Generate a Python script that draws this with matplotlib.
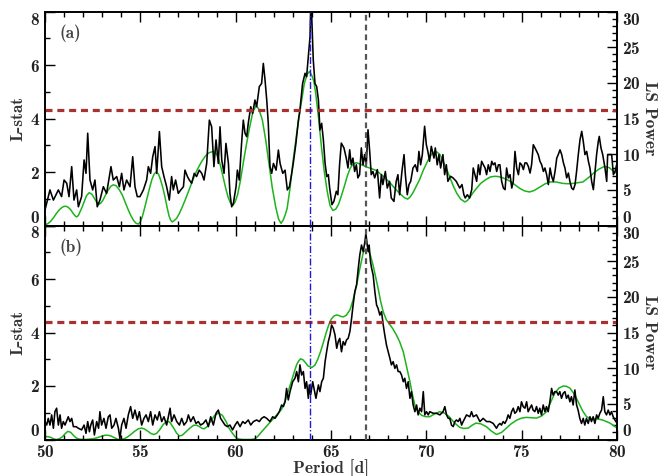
import numpy as np
import matplotlib
matplotlib.use("Agg")
import matplotlib.pyplot as plt

plt.rcParams['font.family'] = ['cmb10', 'DejaVu Serif']
plt.rcParams['axes.formatter.use_mathtext'] = True
plt.rcParams['axes.unicode_minus'] = False

# panel (a): L-stat (black) and LS power (green)
lstat_a = [
    (50.00, 0.58), (50.26, 1.33), (50.44, 0.95), (50.70, 1.33), (50.87, 1.08), (51.00, 1.70),
    (51.14, 1.58), (51.26, 1.08), (51.40, 2.20), (51.52, 0.95), (51.66, 1.33), (51.75, 0.70),
    (51.92, 1.08), (52.05, 2.45), (52.15, 1.95), (52.24, 3.45), (52.36, 1.70), (52.50, 1.33),
    (52.62, 1.70), (52.74, 0.70), (52.88, 0.95), (53.06, 1.45), (53.23, 1.20), (53.46, 2.20),
    (53.58, 1.70), (53.76, 1.83), (53.90, 1.45), (54.02, 1.95), (54.14, 1.33), (54.28, 1.70),
    (54.46, 1.45), (54.60, 2.57), (54.72, 1.45), (54.84, 1.08), (54.98, 1.08), (55.16, 1.33),
    (55.33, 1.70), (55.42, 2.20), (55.54, 1.95), (55.65, 2.57), (55.77, 2.95), (55.86, 1.95),
    (56.00, 3.51), (56.12, 2.20), (56.24, 1.83), (56.38, 1.45), (56.52, 0.95), (56.64, 1.83),
    (56.73, 1.33), (56.85, 1.70), (56.99, 1.20), (57.12, 1.33), (57.26, 1.45), (57.34, 2.07),
    (57.47, 1.83), (57.57, 1.70), (57.69, 1.58), (57.83, 1.95), (57.95, 1.83), (58.09, 2.07),
    (58.22, 1.95), (58.34, 1.70), (58.48, 2.32), (58.62, 3.94), (58.74, 3.69), (58.86, 2.20),
    (58.97, 3.20), (59.09, 2.32), (59.18, 3.69), (59.27, 2.45), (59.39, 1.95), (59.49, 3.07),
    (59.62, 2.32), (59.70, 1.20), (59.79, 0.70), (59.88, 0.83), (60.02, 1.45), (60.09, 2.07),
    (60.19, 1.70), (60.31, 3.07), (60.40, 3.94), (60.49, 3.45), (60.58, 3.32), (60.66, 3.82),
    (60.79, 4.44), (60.89, 4.19), (61.01, 4.69), (61.10, 4.44), (61.24, 5.19), (61.36, 5.31),
    (61.45, 6.06), (61.54, 5.44), (61.63, 4.69), (61.71, 3.82), (61.80, 2.20), (61.89, 1.95),
    (61.98, 2.32), (62.12, 2.07), (62.24, 2.82), (62.33, 2.32), (62.47, 1.95), (62.59, 2.07),
    (62.71, 1.33), (62.82, 1.45), (62.94, 1.95), (63.02, 2.32), (63.16, 3.07), (63.29, 3.94),
    (63.37, 4.32), (63.51, 5.31), (63.64, 5.69), (63.72, 5.56), (63.81, 6.31), (63.90, 7.06),
    (63.95, 8.60), (64.02, 7.18), (64.07, 6.19), (64.16, 5.31), (64.25, 5.19), (64.34, 4.69),
    (64.42, 3.57), (64.51, 3.82), (64.60, 3.20), (64.69, 2.32), (64.78, 1.83), (64.86, 1.90),
    (64.93, 1.40), (65.05, 0.78), (65.15, 0.90), (65.28, 1.28), (65.36, 1.15), (65.45, 2.27),
    (65.54, 3.08), (65.68, 2.90), (65.80, 2.52), (65.89, 2.15), (65.98, 2.83), (66.06, 2.27),
    (66.15, 2.52), (66.24, 2.02), (66.33, 2.27), (66.41, 1.78), (66.50, 1.90), (66.59, 2.90),
    (66.68, 2.27), (66.76, 2.65), (66.85, 2.27), (66.94, 3.58), (67.03, 2.77), (67.11, 1.90),
    (67.20, 2.02), (67.29, 1.78), (67.43, 2.09), (67.55, 1.03), (67.64, 1.90), (67.72, 1.53),
    (67.85, 2.02), (67.95, 1.40), (68.07, 1.65), (68.16, 1.03), (68.30, 0.90), (68.42, 1.65),
    (68.51, 1.90), (68.60, 1.15), (68.72, 2.02), (68.83, 2.65), (68.90, 1.90), (69.00, 1.15),
    (69.09, 1.53), (69.18, 1.65), (69.30, 2.15), (69.42, 2.27), (69.53, 2.02), (69.61, 2.77),
    (69.70, 2.27), (69.79, 2.65), (69.91, 3.71), (70.00, 3.02), (70.08, 2.77), (70.17, 2.40),
    (70.26, 2.96), (70.40, 2.52), (70.47, 2.90), (70.57, 2.27), (70.66, 2.65), (70.75, 2.15),
    (70.87, 2.65), (70.96, 1.90), (71.05, 2.27), (71.13, 1.65), (71.27, 1.84), (71.40, 1.78),
    (71.57, 1.65), (71.75, 1.40), (71.87, 1.53), (71.97, 1.15), (72.04, 1.03), (72.15, 1.15),
    (72.27, 1.03), (72.38, 1.34), (72.46, 2.15), (72.55, 1.90), (72.64, 1.65), (72.73, 2.27),
    (72.81, 1.90), (72.90, 2.40), (72.99, 2.27), (73.08, 2.15), (73.16, 1.90), (73.25, 2.27),
    (73.34, 2.02), (73.43, 2.40), (73.51, 2.27), (73.60, 2.34), (73.69, 2.02), (73.78, 2.27),
    (73.86, 2.27), (73.95, 1.65), (74.04, 1.40), (74.13, 1.34), (74.21, 2.15), (74.30, 1.78),
    (74.39, 1.90), (74.48, 1.40), (74.56, 1.65), (74.65, 2.77), (74.74, 2.15), (74.83, 1.90),
    (74.91, 2.34), (75.00, 2.27), (75.09, 2.09), (75.17, 2.34), (75.26, 2.34), (75.35, 2.21),
    (75.44, 1.96), (75.52, 2.27), (75.61, 3.02), (75.70, 2.90), (75.79, 2.77), (75.87, 2.65),
    (75.96, 2.40), (76.05, 2.27), (76.14, 2.02), (76.22, 2.15), (76.31, 1.90), (76.40, 1.53),
    (76.49, 2.15), (76.57, 1.84), (76.66, 1.65), (76.75, 2.02), (76.84, 2.52), (76.92, 2.65),
    (77.01, 2.83), (77.10, 2.65), (77.19, 2.34), (77.27, 2.15), (77.36, 1.78), (77.45, 1.96),
    (77.53, 1.65), (77.62, 1.40), (77.71, 1.34), (77.80, 1.53), (77.88, 2.02), (77.97, 2.65),
    (78.06, 3.21), (78.15, 3.52), (78.23, 3.15), (78.32, 2.65), (78.41, 2.77), (78.50, 2.40),
    (78.58, 2.15), (78.67, 1.65), (78.76, 1.34), (78.85, 2.02), (78.93, 2.65), (79.02, 3.15),
    (79.07, 3.33), (79.16, 2.90), (79.25, 2.65), (79.37, 2.15), (79.46, 1.65), (79.51, 2.65),
    (79.60, 2.65), (79.72, 2.65), (79.81, 1.90), (79.90, 2.02), (79.98, 2.27),
]

ls_a = [
    (50.0, 0.1), (50.15, 0.25), (50.3, 0.6), (50.45, 1.1), (50.6, 1.7), (50.75, 2.2), (50.9, 2.55),
    (51.0, 2.68), (51.1, 2.7), (51.22, 2.55), (51.35, 2.2), (51.5, 1.6), (51.6, 1.3), (51.66, 1.2),
    (51.75, 1.4), (51.85, 2.0), (51.95, 2.6), (52.05, 3.3), (52.18, 4.2), (52.32, 4.6),
    (52.45, 4.4), (52.55, 4.0), (52.7, 3.3), (52.85, 3.0), (52.95, 3.2), (53.05, 3.6),
    (53.18, 4.3), (53.3, 4.9), (53.45, 5.5), (53.58, 5.7), (53.72, 5.6), (53.9, 5.0),
    (54.05, 4.3), (54.2, 3.3), (54.35, 2.3), (54.5, 1.4), (54.65, 0.7), (54.78, 0.3),
    (54.9, 0.2), (55.0, 0.5), (55.1, 1.2), (55.22, 2.4), (55.35, 3.8), (55.48, 5.2), (55.6, 6.4),
    (55.72, 7.2), (55.83, 7.5), (55.95, 7.2), (56.05, 6.5), (56.18, 5.3), (56.3, 3.9),
    (56.4, 2.6), (56.5, 1.4), (56.58, 0.8), (56.67, 0.5), (56.78, 0.7), (56.9, 1.0),
    (57.05, 1.7), (57.2, 2.6), (57.4, 3.9), (57.6, 5.3), (57.8, 6.7), (58.0, 7.9), (58.2, 8.9),
    (58.4, 9.7), (58.6, 10.2), (58.85, 10.4), (59.0, 10.0), (59.1, 9.4), (59.22, 8.2),
    (59.35, 6.7), (59.48, 5.2), (59.6, 4.0), (59.72, 3.2), (59.85, 2.8), (59.97, 3.3),
    (60.1, 4.3), (60.25, 6.3), (60.4, 8.8), (60.58, 11.6), (60.75, 14.0), (60.9, 15.9),
    (61.07, 16.8), (61.22, 16.3), (61.4, 14.8), (61.58, 11.9), (61.75, 8.6), (61.92, 5.3),
    (62.1, 2.6), (62.25, 0.9), (62.38, 0.3), (62.5, 0.8), (62.6, 1.5), (62.7, 2.4), (62.85, 5.2),
    (63.0, 8.8), (63.2, 12.9), (63.4, 16.5), (63.6, 19.9), (63.75, 21.2), (63.87, 21.6),
    (64.0, 21.0), (64.1, 20.2), (64.2, 18.5), (64.35, 15.0), (64.5, 11.0), (64.65, 7.5),
    (64.8, 4.8), (64.95, 2.8), (65.1, 2.1), (65.25, 2.3), (65.4, 3.0), (65.55, 4.2),
    (65.7, 5.5), (65.85, 6.9), (66.0, 8.0), (66.15, 8.6), (66.33, 8.8), (66.55, 8.6),
    (66.86, 8.2), (67.1, 8.0), (67.39, 7.7), (67.7, 7.0), (68.06, 6.1), (68.35, 5.2),
    (68.6, 4.5), (68.85, 3.9), (69.02, 3.7), (69.15, 4.0), (69.3, 4.6), (69.47, 5.5),
    (69.64, 6.4), (69.85, 7.8), (70.1, 9.2), (70.3, 10.1), (70.5, 10.4), (70.7, 10.0),
    (70.85, 9.2), (71.05, 8.0), (71.23, 6.8), (71.42, 5.5), (71.6, 4.5), (71.8, 3.7),
    (72.02, 3.3), (72.15, 3.5), (72.3, 4.0), (72.45, 4.6), (72.63, 5.2), (72.85, 5.9),
    (73.1, 6.4), (73.35, 6.8), (73.6, 6.9), (73.8, 6.85), (74.0, 6.7), (74.25, 6.4),
    (74.45, 6.1), (74.7, 5.6), (74.9, 5.2), (75.15, 4.85), (75.41, 4.7), (75.65, 4.9),
    (75.9, 5.3), (76.2, 5.8), (76.46, 6.1), (76.8, 6.1), (77.16, 5.9), (77.45, 5.85),
    (77.7, 5.9), (77.95, 6.0), (78.21, 6.1), (78.5, 6.7), (78.8, 7.4), (79.05, 7.9),
    (79.35, 8.3), (79.6, 8.1), (79.87, 7.5), (80.0, 7.3),
]

# panel (b)
lstat_b = [
    (50.00, 0.67), (50.09, 0.54), (50.17, 0.79), (50.26, 0.54), (50.35, 0.92), (50.44, 0.42),
    (50.52, 1.04), (50.61, 1.17), (50.70, 0.54), (50.79, 0.92), (50.87, 0.42), (50.96, 0.67),
    (51.05, 0.54), (51.22, 0.85), (51.31, 0.67), (51.40, 0.79), (51.49, 0.48), (51.63, 0.48),
    (51.75, 0.42), (51.92, 0.36), (52.05, 0.54), (52.15, 0.23), (52.24, 0.67), (52.33, 0.29),
    (52.40, 0.54), (52.50, 0.73), (52.59, 0.17), (52.71, 0.67), (52.81, 0.42), (52.88, 1.04),
    (52.97, 0.54), (53.09, 0.79), (53.20, 0.42), (53.32, 0.85), (53.41, 0.92), (53.50, 0.42),
    (53.62, 0.54), (53.72, 0.79), (53.85, 0.42), (53.93, 0.04), (54.02, 0.54), (54.14, 0.79),
    (54.25, 0.42), (54.37, 0.92), (54.49, 1.23), (54.60, 0.79), (54.72, 1.10), (54.84, 0.73),
    (54.95, 1.04), (55.07, 0.54), (55.19, 0.79), (55.30, 0.92), (55.42, 0.67), (55.54, 1.04),
    (55.65, 0.54), (55.77, 0.92), (55.89, 0.73), (56.00, 1.04), (56.12, 0.67), (56.24, 0.85),
    (56.38, 0.54), (56.56, 1.17), (56.64, 0.67), (56.77, 0.92), (56.91, 0.67), (57.05, 0.54),
    (57.17, 0.79), (57.29, 0.54), (57.43, 0.67), (57.52, 0.92), (57.64, 0.67), (57.78, 0.85),
    (57.92, 0.60), (58.04, 0.67), (58.16, 0.54), (58.30, 0.60), (58.44, 0.73), (58.57, 0.48),
    (58.69, 0.85), (58.83, 0.54), (58.97, 0.98), (59.09, 1.10), (59.21, 0.79), (59.32, 0.67),
    (59.44, 0.54), (59.56, 0.48), (59.70, 0.54), (59.84, 0.36), (59.97, 0.54), (60.09, 0.67),
    (60.23, 0.48), (60.37, 0.67), (60.49, 0.60), (60.66, 0.73), (60.79, 0.54), (60.93, 0.67),
    (61.10, 0.73), (61.24, 0.67), (61.36, 0.79), (61.49, 0.85), (61.63, 0.79), (61.80, 0.67),
    (61.94, 0.85), (62.06, 0.79), (62.19, 0.92), (62.29, 1.04), (62.41, 1.29), (62.50, 1.23),
    (62.59, 1.41), (62.67, 1.91), (62.76, 1.48), (62.85, 1.79), (62.99, 2.16), (63.11, 2.29),
    (63.20, 2.54), (63.29, 2.16), (63.37, 2.79), (63.46, 2.41), (63.55, 2.54), (63.64, 1.91),
    (63.72, 2.16), (63.81, 1.54), (63.86, 2.04), (63.93, 1.66), (64.04, 2.16), (64.11, 1.91),
    (64.21, 1.54), (64.34, 2.04), (64.42, 1.79), (64.51, 2.16), (64.60, 2.29), (64.69, 2.91),
    (64.77, 3.28), (64.86, 3.66), (64.95, 3.91), (65.03, 4.28), (65.12, 4.16), (65.21, 3.91),
    (65.30, 3.41), (65.38, 3.66), (65.46, 3.78), (65.55, 3.28), (65.64, 3.66), (65.73, 3.53),
    (65.81, 3.72), (65.90, 3.78), (65.99, 4.03), (66.08, 4.53), (66.16, 5.03), (66.25, 5.53),
    (66.34, 5.78), (66.43, 6.40), (66.51, 6.90), (66.60, 7.27), (66.69, 7.02), (66.78, 7.40),
    (66.83, 7.71), (66.90, 7.27), (66.95, 7.02), (67.00, 7.27), (67.07, 6.65), (67.13, 6.40),
    (67.21, 6.15), (67.30, 5.53), (67.39, 5.03), (67.47, 4.90), (67.56, 4.65), (67.65, 4.78),
    (67.74, 4.28), (67.82, 3.91), (67.91, 3.53), (68.00, 3.28), (68.09, 3.03), (68.17, 2.79),
    (68.26, 2.91), (68.35, 2.66), (68.44, 2.79), (68.52, 2.54), (68.61, 2.54), (68.70, 2.41),
    (68.79, 2.16), (68.87, 2.29), (68.96, 1.91), (69.05, 2.16), (69.14, 1.54), (69.22, 1.79),
    (69.31, 1.29), (69.40, 1.04), (69.49, 1.29), (69.57, 0.92), (69.66, 1.17), (69.75, 1.04),
    (69.84, 1.79), (69.92, 0.92), (70.01, 1.04), (70.10, 0.92), (70.18, 1.04), (70.36, 0.98),
    (70.53, 0.98), (70.71, 0.92), (70.88, 1.04), (70.97, 1.23), (71.06, 0.92), (71.15, 0.79),
    (71.23, 0.79), (71.32, 0.54), (71.41, 0.48), (71.50, 0.67), (71.58, 0.73), (71.67, 0.67),
    (71.76, 0.79), (71.85, 0.54), (71.93, 0.67), (72.11, 0.92), (72.28, 0.85), (72.37, 1.04),
    (72.46, 0.85), (72.63, 0.92), (72.81, 0.67), (72.98, 0.79), (73.16, 0.67), (73.33, 0.67),
    (73.51, 0.60), (73.68, 0.42), (73.77, 0.54), (73.86, 0.60), (73.94, 0.54), (74.03, 0.67),
    (74.12, 0.60), (74.21, 0.73), (74.29, 0.92), (74.38, 0.79), (74.47, 1.04), (74.56, 1.17),
    (74.64, 0.98), (74.73, 1.04), (74.82, 1.23), (74.91, 1.04), (74.99, 1.41), (75.08, 1.23),
    (75.17, 1.17), (75.26, 1.41), (75.34, 1.04), (75.43, 1.17), (75.52, 1.29), (75.60, 1.10),
    (75.69, 1.04), (75.78, 1.23), (75.87, 0.98), (75.95, 1.17), (76.04, 0.92), (76.13, 1.29),
    (76.22, 1.04), (76.30, 1.23), (76.39, 1.04), (76.48, 1.41), (76.57, 1.91), (76.65, 1.66),
    (76.74, 1.79), (76.83, 1.79), (76.92, 1.66), (77.00, 1.79), (77.09, 1.54), (77.18, 1.73),
    (77.27, 1.79), (77.35, 1.54), (77.44, 1.66), (77.53, 1.41), (77.61, 1.60), (77.70, 1.29),
    (77.79, 1.85), (77.88, 1.29), (77.96, 1.10), (78.05, 0.79), (78.14, 0.60), (78.23, 0.79),
    (78.31, 0.54), (78.40, 0.79), (78.49, 0.60), (78.58, 0.85), (78.66, 0.67), (78.75, 0.85),
    (78.84, 0.60), (78.93, 0.92), (79.01, 0.79), (79.10, 0.98), (79.19, 1.10), (79.28, 1.60),
    (79.36, 1.04), (79.45, 0.92), (79.54, 1.10), (79.63, 0.92), (79.71, 1.04), (79.80, 0.85),
    (79.89, 0.73), (79.94, 0.67),
]

ls_b = [
    (50.0, 0.4), (50.15, 0.4), (50.3, 0.3), (50.45, 0.1), (50.6, 0.0), (50.75, 0.1), (50.9, 0.35),
    (51.05, 0.8), (51.2, 1.15), (51.35, 1.0), (51.5, 0.55), (51.65, 0.2), (51.8, 0.05),
    (52.1, 0.0), (52.5, 0.1), (52.75, 0.25), (52.95, 0.45), (53.15, 0.6), (53.3, 0.6),
    (53.45, 0.5), (53.6, 0.3), (53.8, 0.05), (53.95, 0.0), (54.15, 0.1), (54.3, 0.3),
    (54.5, 0.7), (54.7, 1.15), (54.9, 1.5), (55.05, 1.6), (55.2, 1.5), (55.4, 1.15),
    (55.55, 0.85), (55.7, 0.7), (55.85, 0.85), (56.0, 1.3), (56.2, 2.1), (56.4, 2.6),
    (56.55, 2.4), (56.75, 1.6), (56.9, 0.9), (57.05, 0.5), (57.2, 0.6), (57.4, 1.1),
    (57.6, 1.6), (57.8, 2.0), (57.95, 2.0), (58.1, 1.8), (58.25, 1.55), (58.35, 1.5),
    (58.5, 1.8), (58.7, 2.6), (58.9, 3.4), (59.1, 3.7), (59.3, 3.4), (59.5, 2.5),
    (59.65, 1.6), (59.8, 1.0), (59.95, 0.45), (60.05, 0.2), (60.2, 0.05), (60.4, 0.0),
    (60.8, 0.0), (61.0, 0.1), (61.15, 0.4), (61.3, 0.9), (61.45, 1.35), (61.6, 1.8),
    (61.8, 2.4), (62.0, 3.0), (62.2, 3.6), (62.4, 4.2), (62.52, 4.9), (62.65, 5.8),
    (62.8, 7.1), (62.95, 8.4), (63.1, 9.7), (63.2, 10.5), (63.3, 11.0), (63.4, 11.3),
    (63.52, 11.2), (63.65, 10.8), (63.8, 10.3), (64.0, 10.1), (64.15, 10.4), (64.3, 11.2),
    (64.45, 12.3), (64.6, 13.6), (64.75, 15.0), (64.9, 16.2), (65.02, 16.9), (65.15, 17.3),
    (65.28, 17.45), (65.4, 17.4), (65.52, 17.25), (65.65, 17.2), (65.8, 17.4), (66.0, 18.2),
    (66.15, 19.5), (66.35, 21.7), (66.5, 23.8), (66.7, 26.3), (66.82, 26.6), (66.95, 26.6),
    (67.08, 25.7), (67.2, 24.5), (67.33, 22.9), (67.47, 21.2), (67.6, 19.4), (67.74, 17.9),
    (67.9, 16.8), (68.09, 16.1), (68.25, 15.5), (68.44, 14.6), (68.6, 13.7), (68.79, 12.3),
    (68.95, 10.4), (69.14, 8.1), (69.27, 6.3), (69.4, 4.8), (69.55, 3.9), (69.75, 3.4),
    (69.95, 3.2), (70.18, 3.2), (70.45, 3.6), (70.7, 3.9), (70.95, 3.7), (71.2, 3.2),
    (71.45, 2.4), (71.75, 1.7), (71.95, 1.55), (72.2, 1.6), (72.4, 2.0), (72.6, 2.3),
    (72.85, 2.2), (73.15, 1.8), (73.4, 1.2), (73.68, 0.7), (73.95, 1.0), (74.2, 1.6),
    (74.45, 2.2), (74.73, 2.7), (75.0, 3.0), (75.25, 3.1), (75.5, 3.05), (75.78, 3.0),
    (76.05, 3.3), (76.3, 3.9), (76.5, 5.1), (76.74, 6.5), (76.95, 7.2), (77.18, 7.5),
    (77.35, 7.45), (77.53, 7.2), (77.75, 6.4), (77.96, 5.3), (78.2, 4.0), (78.4, 3.2),
    (78.6, 2.95), (78.84, 2.9), (79.05, 2.85), (79.28, 2.7), (79.45, 2.5), (79.63, 2.3),
    (79.8, 2.0), (80.0, 1.6),
]

threshold = [4.32, 4.39]      # L-stat significance level per panel
p_blue = 63.9
p_black = 66.83
panel_tags = ['(a)', '(b)']

tick_col = '#222222'
fs = 12.5
fig = plt.figure(figsize=(6.71, 4.76), dpi=100)
left, right = 45 / 671, 617 / 671
tops = [1 - 11.5 / 476, 1 - 225.5 / 476]
h = 214 / 476

for i, (black, green) in enumerate([(lstat_a, ls_a), (lstat_b, ls_b)]):
    ax = fig.add_axes([left, tops[i] - h, right - left, h])
    ax2 = ax.twinx()
    ax.set_zorder(ax2.get_zorder() + 1)
    ax.patch.set_visible(False)

    g = np.array(green).T
    b = np.array(black).T
    ax2.plot(g[0], g[1], color='#1db31d', lw=1.1)
    ax.plot(b[0], b[1], color='black', lw=1.15)
    ax.axhline(threshold[i], color='#a83232', lw=2.3, dashes=(2.2, 1.5))
    ax.axvline(p_black, color='#555555', lw=1.6, dashes=(2.6, 1.8), zorder=4)
    ax.axvline(p_blue, color='#1a1ae0', lw=1.0, dashes=(5, 1.5, 1, 1.5), zorder=4)

    ax.set_xlim(50, 80)
    ax.set_ylim(0, 8)
    ax2.set_ylim(0, 30)
    ax.set_xticks(np.arange(50, 81, 5))
    ax.set_xticks(np.arange(50, 81, 1), minor=True)
    ax.set_yticks([0, 2, 4, 6, 8])
    ax.set_yticks(np.arange(0, 9, 1), minor=True)
    ax2.set_yticks(np.arange(0, 31, 5))
    ax2.set_yticks(np.arange(0, 31, 1), minor=True)

    ax.tick_params(which='both', direction='in', top=True, right=False,
                   labelsize=fs, labelcolor=tick_col, width=1.0)
    ax.tick_params(which='major', length=7)
    ax.tick_params(which='minor', length=3.5)
    ax2.tick_params(which='both', direction='in', labelsize=fs,
                    labelcolor=tick_col, width=1.0)
    ax2.tick_params(which='major', length=7)
    ax2.tick_params(which='minor', length=3.5)
    for a in (ax, ax2):
        for s in a.spines.values():
            s.set_linewidth(1.2)

    if i == 0:
        ax.tick_params(labelbottom=False)
    else:
        ax.tick_params(axis='x', pad=3)
        ax.set_xlabel('Period [d]', fontsize=fs, color='#333333', labelpad=0)

    # keep the end labels inside the panel
    yt = ax.yaxis.get_major_ticks()
    yt[0].label1.set_va('bottom')
    yt[-1].label1.set_va('top')
    yt2 = ax2.yaxis.get_major_ticks()
    yt2[0].label2.set_va('bottom')
    yt2[-1].label2.set_va('top')

    ax.set_ylabel('L-stat', fontsize=fs, color='#333333', labelpad=3)
    ax2.set_ylabel('LS Power', fontsize=fs, color='#333333', rotation=-90, labelpad=12)
    ax.text(0.026, 0.90, panel_tags[i], transform=ax.transAxes, fontsize=fs,
            color='#444444', va='center', ha='left')

fig.savefig('out.png', dpi=100)
